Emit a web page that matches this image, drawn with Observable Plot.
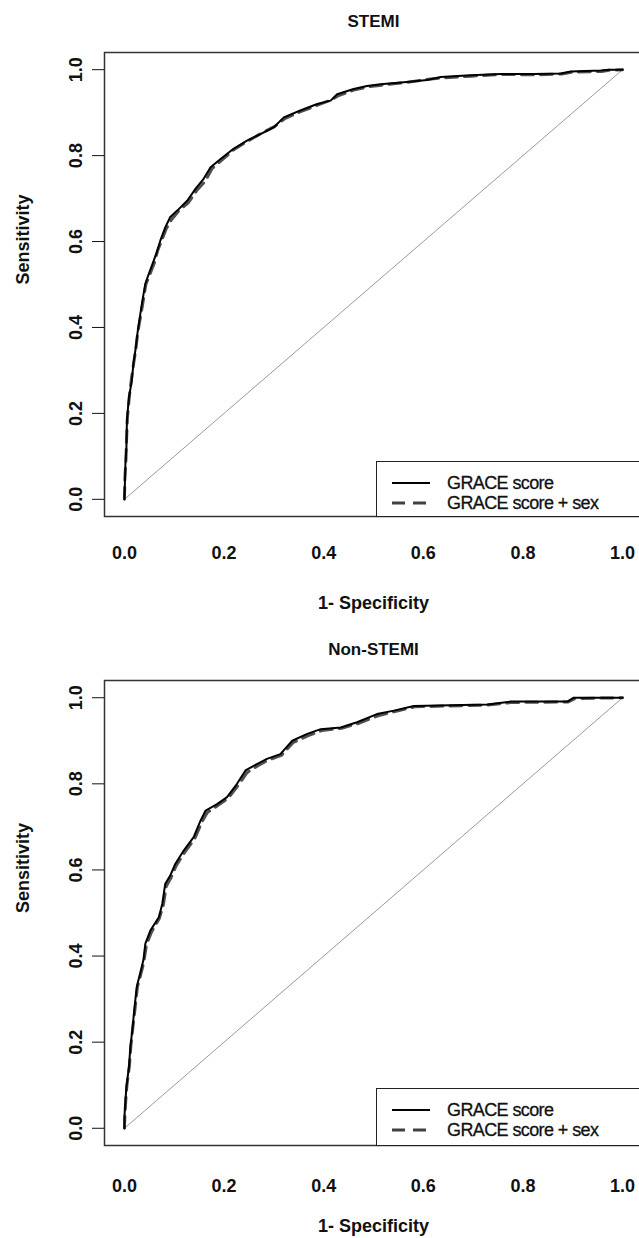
<!DOCTYPE html>
<html><head><meta charset="utf-8">
<script src="https://cdn.jsdelivr.net/npm/d3@7"></script>
<script src="https://cdn.jsdelivr.net/npm/@observablehq/plot@0.6"></script>
<style>
html,body{margin:0;padding:0;background:#fff;overflow:hidden;}
#wrap{position:relative;width:639px;height:1238px;overflow:hidden;background:#fff;}
.panel{position:absolute;left:0;}
.legend{position:absolute;left:376px;width:300px;border:1.4px solid #222;background:#fff;box-sizing:border-box;
  font-family:"Liberation Sans",Arial,sans-serif;font-size:18px;color:#111;}
.legend .row{position:absolute;left:0;height:20px;}
.legend .row svg{position:absolute;left:15px;top:0;}
.legend .row span{position:absolute;left:70px;top:0;line-height:20px;white-space:nowrap;letter-spacing:-0.6px;-webkit-text-stroke:0.3px #111;}
</style></head><body><div id="wrap"></div>
<script>
// ---- data ----
const xTicks = [0, 0.2, 0.4, 0.6, 0.8, 1.0];
const yTicks = [0, 0.2, 0.4, 0.6, 0.8, 1.0];
const tickLabels = ["0.0", "0.2", "0.4", "0.6", "0.8", "1.0"];
const seriesNames = ["GRACE score", "GRACE score + sex"];
const panelTitles = ["STEMI", "Non-STEMI"];
const xLabel = "1- Specificity";
const yLabel = "Sensitivity";

// STEMI, GRACE score
const stemiFpr = [0,0.001,0.002,0.004,0.005,0.009,0.015,0.018,0.022,0.026,0.029,0.035,0.042,0.049,0.059,0.066,0.072,0.082,0.092,0.106,0.126,0.143,0.159,0.173,0.193,0.219,0.246,0.273,0.300,0.320,0.353,0.387,0.414,0.427,0.460,0.487,0.514,0.561,0.608,0.635,0.695,0.755,0.822,0.876,0.896,0.956,0.972,1.0];
const stemiTpr = [0,0.040,0.083,0.121,0.184,0.237,0.277,0.316,0.347,0.385,0.409,0.455,0.502,0.525,0.556,0.579,0.602,0.633,0.657,0.672,0.695,0.723,0.746,0.773,0.792,0.816,0.835,0.850,0.866,0.889,0.905,0.920,0.928,0.943,0.955,0.962,0.966,0.971,0.976,0.983,0.987,0.990,0.990,0.991,0.996,0.998,1.0,1.0];
// STEMI, GRACE score + sex
const stemiSexFpr = [0,0.001,0.003,0.004,0.006,0.010,0.014,0.019,0.023,0.027,0.030,0.036,0.043,0.050,0.060,0.067,0.074,0.084,0.094,0.108,0.128,0.146,0.162,0.176,0.196,0.221,0.248,0.275,0.302,0.322,0.355,0.389,0.416,0.430,0.462,0.489,0.516,0.563,0.610,0.637,0.697,0.757,0.824,0.878,0.898,0.958,0.974,1.0];
const stemiSexTpr = [0,0.050,0.090,0.130,0.190,0.240,0.280,0.320,0.350,0.390,0.410,0.450,0.500,0.520,0.550,0.580,0.600,0.630,0.650,0.670,0.690,0.720,0.740,0.770,0.790,0.815,0.834,0.852,0.868,0.886,0.903,0.918,0.930,0.940,0.953,0.960,0.964,0.970,0.978,0.981,0.985,0.989,0.988,0.990,0.994,0.996,0.999,1.0];

// Non-STEMI, GRACE score
const nstemiFpr = [0,0,0.002,0.004,0.009,0.012,0.016,0.021,0.025,0.032,0.038,0.042,0.052,0.069,0.076,0.082,0.092,0.102,0.119,0.139,0.153,0.163,0.186,0.206,0.226,0.243,0.266,0.286,0.313,0.337,0.367,0.394,0.434,0.467,0.507,0.541,0.581,0.728,0.775,0.889,0.902,1.0];
const nstemiTpr = [0,0.026,0.065,0.096,0.142,0.189,0.230,0.289,0.330,0.362,0.390,0.429,0.459,0.490,0.521,0.568,0.587,0.614,0.645,0.676,0.715,0.738,0.753,0.769,0.800,0.831,0.846,0.858,0.869,0.900,0.916,0.927,0.931,0.943,0.962,0.970,0.981,0.984,0.991,0.991,1.0,1.0];
// Non-STEMI, GRACE score + sex
const nstemiSexFpr = [0,0.001,0.003,0.005,0.010,0.013,0.017,0.022,0.026,0.033,0.039,0.044,0.054,0.070,0.078,0.084,0.094,0.104,0.121,0.141,0.155,0.166,0.188,0.208,0.228,0.246,0.268,0.288,0.315,0.339,0.369,0.397,0.436,0.469,0.509,0.543,0.583,0.730,0.777,0.891,0.904,1.0];
const nstemiSexTpr = [0,0.030,0.070,0.100,0.145,0.192,0.235,0.285,0.328,0.358,0.386,0.425,0.455,0.487,0.518,0.562,0.583,0.610,0.641,0.672,0.710,0.733,0.750,0.766,0.796,0.826,0.842,0.855,0.866,0.896,0.912,0.924,0.929,0.940,0.958,0.968,0.979,0.983,0.989,0.990,0.998,1.0];

// ---- drawing ----
const FONT = "'Liberation Sans', Arial, Helvetica, sans-serif";
const lab = d => tickLabels[xTicks.indexOf(d)];

function panel(cfg) {
  const solid = cfg.fpr.map((x, i) => ({x, y: cfg.tpr[i]}));
  const dashed = cfg.fpr2.map((x, i) => ({x, y: cfg.tpr2[i]}));
  const ends = [xTicks[0], xTicks[xTicks.length - 1]];
  return Plot.plot({
    width: 645, height: cfg.height,
    marginLeft: 104, marginRight: 3, marginTop: cfg.marginTop, marginBottom: cfg.marginBottom,
    x: {domain: [-0.04, 1.04], axis: null, label: null},
    y: {domain: [-0.04, 1.04], axis: null, label: null},
    style: {fontFamily: FONT, background: "white", maxWidth: "none", overflow: "visible", color: "#111"},
    marks: [
      Plot.line(ends, {x: d => d, y: d => d, stroke: "#9a9a9a", strokeWidth: 1}),
      Plot.line(dashed, {x: "x", y: "y", stroke: "#505050", strokeWidth: 3, strokeDasharray: "12,7"}),
      Plot.line(solid, {x: "x", y: "y", stroke: "#000", strokeWidth: 2}),
      Plot.frame({stroke: "#333", strokeWidth: 1.5}),
      Plot.axisX(xTicks, {anchor: "bottom", tickSize: 11, tickPadding: cfg.xTickPad, tickFormat: lab, label: null,
        fontSize: 18, fontWeight: "bold", stroke: null, fill: "#111"}),
      Plot.axisY(yTicks, {anchor: "left", tickSize: 12, tickFormat: () => "", label: null}),
      Plot.text(yTicks, {y: d => d, text: lab, frameAnchor: "left", dx: -28, rotate: -90,
        fontSize: 18, fontWeight: "bold", textAnchor: "middle", lineAnchor: "middle", fill: "#111"}),
      Plot.text([yLabel], {frameAnchor: "left", dx: -81, rotate: -90, fontSize: 18, fontWeight: "bold",
        lineAnchor: "middle", fill: "#111"}),
      Plot.text([xLabel], {frameAnchor: "bottom", dy: cfg.xTitleDy, fontSize: 18, fontWeight: "bold",
        lineAnchor: "middle", fill: "#111"}),
      Plot.text([cfg.title], {frameAnchor: "top", dy: -31, fontSize: 17, fontWeight: "bold",
        lineAnchor: "middle", fill: "#111"})
    ]
  });
}

function legend(top, height) {
  const box = d3.select("#wrap").append("div").attr("class", "legend")
    .style("top", top + "px").style("height", height + "px");
  seriesNames.forEach((name, i) => {
    const row = box.append("div").attr("class", "row").style("top", (11 + i * 20) + "px");
    const svg = row.append("svg").attr("width", 40).attr("height", 20);
    svg.append("line").attr("x1", 0).attr("x2", 38).attr("y1", 10).attr("y2", 10)
      .attr("stroke", i === 0 ? "#000" : "#404040").attr("stroke-width", i === 0 ? 2 : 3)
      .attr("stroke-dasharray", i === 0 ? null : "13,8");
    row.append("span").text(name);
  });
}

const wrap = document.getElementById("wrap");
const p1 = panel({title: panelTitles[0], fpr: stemiFpr, tpr: stemiTpr, fpr2: stemiSexFpr, tpr2: stemiSexTpr,
  height: 624, marginTop: 52, marginBottom: 108, xTickPad: 19, xTitleDy: 87});
p1.classList.add("panel"); p1.style.top = "0px"; p1.style.position = "absolute";
wrap.appendChild(p1);
const p2 = panel({title: panelTitles[1], fpr: nstemiFpr, tpr: nstemiTpr, fpr2: nstemiSexFpr, tpr2: nstemiSexTpr,
  height: 614, marginTop: 56, marginBottom: 93, xTickPad: 23, xTitleDy: 81});
p2.classList.add("panel"); p2.style.top = "624px"; p2.style.position = "absolute";
wrap.appendChild(p2);
legend(461, 56);
legend(1088, 58);
</script>
</body></html>
